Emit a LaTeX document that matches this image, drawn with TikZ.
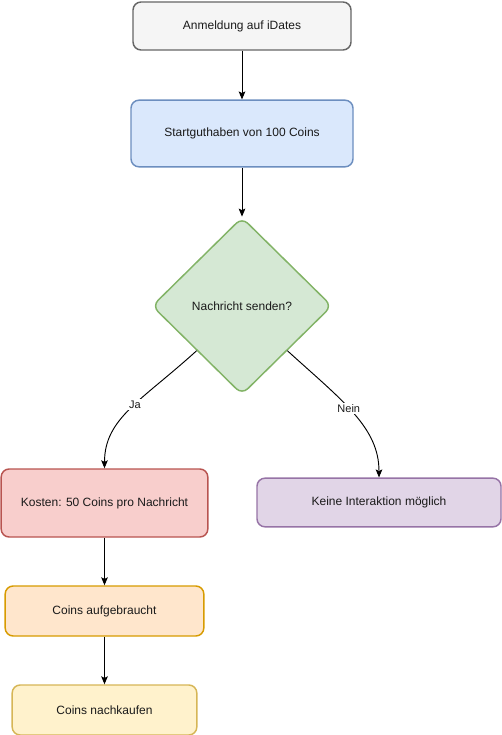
\documentclass[tikz,border=0pt]{standalone}
\usepackage{fontspec}
\setmainfont{Liberation Sans}
\usetikzlibrary{shapes.geometric,arrows.meta}
\definecolor{grayF}{HTML}{F5F5F5}\definecolor{grayS}{HTML}{666666}
\definecolor{blueF}{HTML}{DAE8FC}\definecolor{blueS}{HTML}{6C8EBF}
\definecolor{greenF}{HTML}{D5E8D4}\definecolor{greenS}{HTML}{82B366}
\definecolor{redF}{HTML}{F8CECC}\definecolor{redS}{HTML}{B85450}
\definecolor{purpF}{HTML}{E1D5E7}\definecolor{purpS}{HTML}{9673A6}
\definecolor{orF}{HTML}{FFE6CC}\definecolor{orS}{HTML}{D79B00}
\definecolor{yelF}{HTML}{FFF2CC}\definecolor{yelS}{HTML}{D6B656}
\definecolor{txt}{HTML}{1A1A1A}

\begin{document}
\begin{tikzpicture}[x=0.75pt,y=-0.75pt,
  box/.style={draw,line width=1.1pt,rounded corners=6pt,align=center,text=txt,
    font=\fontsize{9}{11}\selectfont,inner sep=0pt},
  flow/.style={-{Stealth[length=6pt,width=5pt,inset=1.2pt]},line width=0.7pt},
  lbl/.style={fill=white,inner sep=1pt,text=txt,font=\fontsize{8.25}{10}\selectfont}]
\useasboundingbox (0,0) rectangle (502,735);
% boxes, from the top
\node[box,fill=grayF,draw=grayS,minimum width=163.5pt,minimum height=36pt] (login) at (242,26) {Anmeldung auf iDates};
\node[box,fill=blueF,draw=blueS,minimum width=166.5pt,minimum height=50pt] (start) at (242,133.5) {Startguthaben von 100 Coins};
\node[draw=greenS,fill=greenF,line width=1.1pt,shape=diamond,aspect=1,rounded corners=6pt,inner sep=0pt,
  minimum width=135pt,minimum height=133pt,text=txt,font=\fontsize{9}{11}\selectfont] (ask) at (242,306) {Nachricht senden?};
\node[box,fill=redF,draw=redS,minimum width=155pt,minimum height=51pt] (cost) at (104.5,503) {Kosten: 50 Coins pro Nachricht};
\node[box,fill=purpF,draw=purpS,minimum width=183pt,minimum height=36.5pt] (none) at (379,502.5) {Keine Interaktion möglich};
\node[box,fill=orF,draw=orS,minimum width=149pt,minimum height=37.5pt] (used) at (104.5,611) {Coins aufgebraucht};
\node[box,fill=yelF,draw=yelS,minimum width=138.5pt,minimum height=37.5pt] (buy) at (104.5,710) {Coins nachkaufen};
% connectors
\draw[flow] (ask.south west) .. controls +(-55,50) and +(0,-50) .. (cost.north) node[lbl,pos=0.45] (ja) {Ja};
\draw[flow] (ask.south east) .. controls +(55,50) and +(0,-50) .. (none.north) node[lbl,pos=0.45] (nein) {Nein};
\draw[flow] (login) -- (start);
\draw[flow] (start) -- (ask);
\draw[flow] (cost) -- (used);
\draw[flow] (used) -- (buy);
\end{tikzpicture}
\end{document}
